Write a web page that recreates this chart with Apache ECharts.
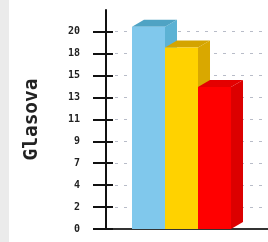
<!DOCTYPE html>
<html>
<head>
    <meta charset="UTF-8">
    <title>Glasova</title>
    <script src="https://cdn.jsdelivr.net/npm/echarts@6/dist/echarts.min.js"></script>
    <style>
        html, body { margin: 0; padding: 0; background: #fff; }
        #main { width: 268px; height: 242px; }
    </style>
</head>
<body>
    <div id="main"></div>
    <script>
        // podaci
        var categories = ['A', 'B', 'C'];
        var votes = [20.5, 18.4, 14.4];
        var tickLabels = ['0', '2', '4', '7', '9', '11', '13', '15', '18', '20'];

        // boje: prednja strana, vrh, bok
        var palette = [
            ['#80c8ec', '#4fa3c4', '#5cb2d4'],
            ['#ffd200', '#d4a400', '#d9a800'],
            ['#ff0000', '#e40000', '#dc0000']
        ];

        var step = 20 / 9;
        var dx = 12, dy = 7;
        var tickValues = tickLabels.map(function (t, i) { return i * step; });

        function tickText(v) {
            var i = Math.round(v / step);
            return i < tickLabels.length ? tickLabels[i] : '';
        }

        var labelFont = { fontFamily: 'DejaVu Sans Mono', fontSize: 10, fontWeight: 'bold', color: '#222' };

        var option = {
            animation: false,
            graphic: [{
                type: 'rect', left: 0, top: 0, z: -1,
                shape: { width: 9, height: 242 },
                style: { fill: '#ebebeb' }
            }],
            grid: { left: 106, right: 0, top: 10, bottom: 13 },
            xAxis: {
                type: 'value',
                min: -1.288,
                max: 3.621,
                axisLine: { show: true, onZero: false, lineStyle: { color: '#333', width: 2 } },
                axisTick: { show: false },
                axisLabel: { show: false },
                splitLine: { show: false }
            },
            yAxis: [{
                type: 'value',
                min: 0,
                max: 22.2,
                interval: step,
                name: 'Glasova',
                nameLocation: 'middle',
                nameRotate: 90,
                nameGap: 64,
                nameTextStyle: { fontFamily: 'DejaVu Sans Mono', fontSize: 19.5, fontWeight: 'bold', color: '#222' },
                axisLine: { show: true, onZero: false, lineStyle: { color: '#111', width: 2 } },
                axisTick: { show: true, length: 13, customValues: tickValues, lineStyle: { color: '#111', width: 2 } },
                axisLabel: Object.assign({ margin: 26, formatter: tickText, customValues: tickValues }, labelFont),
                splitLine: { show: true, lineStyle: { color: '#b8bcc8', type: [3, 6], width: 1 } }
            }, {
                type: 'value',
                min: 0,
                max: 22.2,
                interval: step,
                position: 'left',
                axisLine: { show: false, onZero: false },
                axisTick: { show: true, inside: true, length: 7, customValues: tickValues, lineStyle: { color: '#111', width: 2 } },
                axisLabel: { show: false },
                splitLine: { show: false }
            }],
            series: [{
                type: 'custom',
                renderItem: function (params, api) {
                    var i = api.value(0);
                    var v = api.value(1);
                    var x0 = api.coord([i - 0.5, 0])[0];
                    var x1 = api.coord([i + 0.5, 0])[0];
                    var base = api.coord([i, 0])[1];
                    var top = api.coord([i, v])[1];
                    var c = palette[params.dataIndex];
                    return {
                        type: 'group',
                        children: [{
                            type: 'polygon',
                            shape: { points: [[x1, top], [x1 + dx, top - dy], [x1 + dx, base - dy], [x1, base]] },
                            style: { fill: c[2] }
                        }, {
                            type: 'polygon',
                            shape: { points: [[x0, top], [x0 + dx, top - dy], [x1 + dx, top - dy], [x1, top]] },
                            style: { fill: c[1] }
                        }, {
                            type: 'rect',
                            shape: { x: x0, y: top, width: x1 - x0, height: base - top },
                            style: { fill: c[0] }
                        }]
                    };
                },
                encode: { x: 0, y: 1 },
                data: votes.map(function (v, i) { return [i, v, categories[i]]; })
            }]
        };

        var chart = echarts.init(document.getElementById('main'));
        chart.setOption(option);
    </script>
</body>
</html>
